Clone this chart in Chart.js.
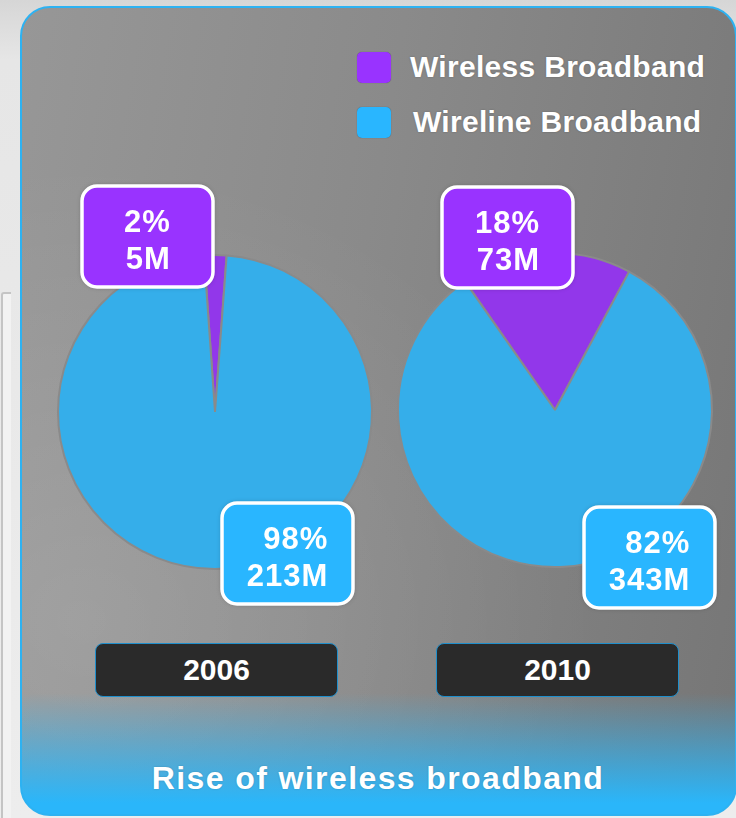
<!DOCTYPE html>
<html>
<head>
<meta charset="utf-8">
<script src="https://cdn.jsdelivr.net/npm/chart.js@4"></script>
<style>
  html, body { margin:0; padding:0; }
  body { width:736px; height:818px; overflow:hidden; position:relative;
         background: linear-gradient(to bottom, #d6d6d6 0px, #e6e6e6 60px, #ededed 818px);
         font-family: "Liberation Sans", Arial, sans-serif; }
  #edge { position:absolute; left:1px; top:292px; width:8px; height:530px; border-left:2px solid #c4c4c4; border-top:2px solid #c4c4c4; border-radius:3px 0 0 0; background:#f2f2f2; }
  #panel { position:absolute; left:20px; top:6px; width:717px; height:810px; box-sizing:border-box;
           border:2px solid #2db2f2; border-radius:30px; overflow:hidden;
           background:
             linear-gradient(to bottom, rgba(42,182,250,0) 0px, rgba(42,182,250,0) 685px, rgba(42,182,250,0.55) 745px, rgba(42,182,250,1) 795px),
             radial-gradient(ellipse 520px 460px at 8% 76%, rgba(255,255,255,0.13) 0%, rgba(255,255,255,0) 100%),
             linear-gradient(100deg, #979797 0%, #8a8a8a 45%, #767676 100%); }
  .leg { position:absolute; left:357px; height:32px; display:flex; align-items:center; color:#fff; font-weight:bold; font-size:30px; letter-spacing:0.3px; text-shadow:0 0 2px rgba(0,0,0,0.25); white-space:nowrap; }
  .sw { width:34px; height:31px; border-radius:5px; margin-right:19px; box-shadow:0 0 1px rgba(0,0,0,0.4); }
  .year { position:absolute; top:643px; width:243px; height:54px; box-sizing:border-box; background:#2a2a2a; border:1.5px solid #1f8fcc; border-radius:8px;
          color:#fff; font-weight:bold; font-size:30px; display:flex; align-items:center; justify-content:center; }
  #title { position:absolute; left:0; width:756px; top:760px; text-align:center; color:#fff; font-weight:bold; font-size:32px; letter-spacing:1.4px; text-shadow:0 0 2px rgba(0,0,0,0.2); }
  canvas { position:absolute; }
</style>
</head>
<body>
<div id="edge"></div>
<div id="panel"></div>
<div id="legend"></div>
<canvas id="c0" width="356" height="476" style="left:37px; top:175px;"></canvas>
<canvas id="c1" width="356" height="476" style="left:377px; top:172px;"></canvas>
<div class="year" id="y0" style="left:95px;"></div>
<div class="year" id="y1" style="left:436px;"></div>
<div id="title"></div>
<script>
// ---- data ----
const categories = ['Wireless Broadband', 'Wireline Broadband'];
const years = ['2006', '2010'];
const wirelessUsers = [5, 73];      // millions
const wirelineUsers = [213, 343];   // millions
const wirelessPct = [2, 18];
const wirelinePct = [98, 82];
const chartTitle = 'Rise of wireless broadband';

// ---- styles ----
const sliceColors = ['#9237ea', '#35aeea'];
const boxColors = ['#9933ff', '#29b6ff'];
const rotations = [-4, -35];
// label box placement relative to pie centre (left, top) per chart, per category
const boxOffsets = [
  [[-133, -226], [7, 91]],
  [[-113, -223], [29, 97]]
];
const boxW = 131, boxH = 101;

// legend
const legendEl = document.getElementById('legend');
categories.forEach((c, i) => {
  const d = document.createElement('div');
  d.className = 'leg';
  d.style.top = (i === 0 ? 51 : 106) + 'px';
  d.innerHTML = '<div class="sw" style="background:' + boxColors[i] + '"></div><span' + (i===1?' style="margin-left:3px"':'') + '>' + c + '</span>';
  legendEl.appendChild(d);
});
years.forEach((y, i) => document.getElementById('y' + i).textContent = y);
document.getElementById('title').textContent = chartTitle;

function roundRect(ctx, x, y, w, h, r) {
  ctx.beginPath();
  ctx.moveTo(x + r, y);
  ctx.arcTo(x + w, y, x + w, y + h, r);
  ctx.arcTo(x + w, y + h, x, y + h, r);
  ctx.arcTo(x, y + h, x, y, r);
  ctx.arcTo(x, y, x + w, y, r);
  ctx.closePath();
}

const labelPlugin = {
  id: 'boxLabels',
  afterDraw(chart) {
    const ctx = chart.ctx;
    const meta = chart.getDatasetMeta(0);
    const arc0 = meta.data[0];
    const cx = arc0.x, cy = arc0.y;
    const idx = chart.options.plugins.boxLabels.index;
    const pcts = [wirelessPct[idx], wirelinePct[idx]];
    const vals = chart.data.datasets[0].data;
    ctx.save();
    vals.forEach((v, k) => {
      const off = boxOffsets[idx][k];
      const bx = cx + off[0], by = cy + off[1];
      ctx.shadowColor = 'rgba(0,0,0,0.35)';
      ctx.shadowBlur = 5;
      roundRect(ctx, bx, by, boxW, boxH, 15);
      ctx.fillStyle = boxColors[k];
      ctx.fill();
      ctx.shadowBlur = 0;
      ctx.lineWidth = 3.5;
      ctx.strokeStyle = '#ffffff';
      ctx.stroke();
      const lines = [pcts[k] + '%', v + 'M'];
      ctx.font = 'bold 31px "Liberation Sans", Arial, sans-serif';
      ctx.letterSpacing = '1px';
      const maxW = Math.max(...lines.map(t => ctx.measureText(t).width));
      const right = bx + boxW / 2 + maxW / 2;
      ctx.fillStyle = '#ffffff';
      ctx.textAlign = 'right';
      ctx.textBaseline = 'middle';
      ctx.fillText(lines[0], right, by + 37);
      ctx.fillText(lines[1], right, by + 74);
    });
    ctx.restore();
  }
};

years.forEach((y, i) => {
  new Chart(document.getElementById('c' + i), {
    type: 'pie',
    data: {
      labels: categories,
      datasets: [{
        data: [wirelessUsers[i], wirelineUsers[i]],
        backgroundColor: sliceColors,
        borderColor: '#8a8a8a',
        borderWidth: 2
      }]
    },
    options: {
      responsive: false,
      animation: false,
      events: [],
      rotation: rotations[i],
      layout: { padding: { left: 19, right: 19, top: i === 0 ? 79 : 80, bottom: i === 0 ? 81 : 80 } },
      plugins: {
        legend: { display: false },
        tooltip: { enabled: false },
        boxLabels: { index: i }
      }
    },
    plugins: [labelPlugin]
  });
});
</script>
</body>
</html>
